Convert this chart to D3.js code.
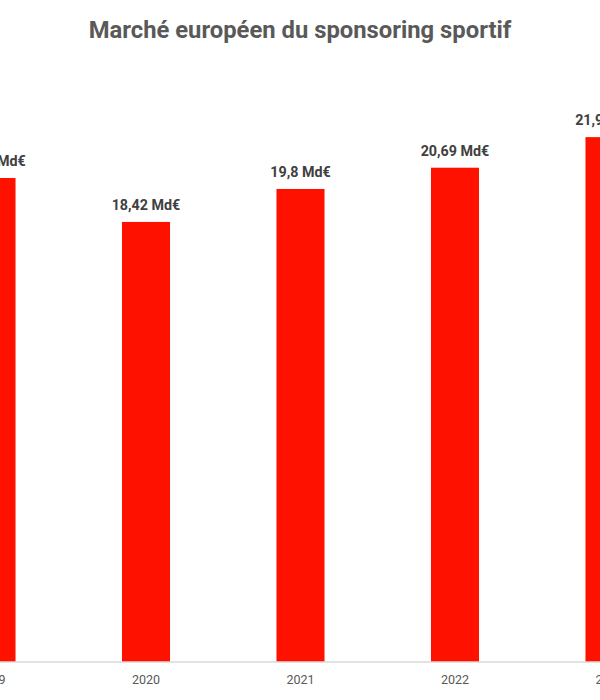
<!DOCTYPE html>
<html><head><meta charset="utf-8">
<script src="https://cdn.jsdelivr.net/npm/d3@7"></script>
<style>html,body{margin:0;padding:0;background:#fff;overflow:hidden}</style>
</head><body>
<svg id="c" width="600" height="700"></svg>
<script>
const title = "Marché européen du sponsoring sportif";
const years = ["2019","2020","2021","2022","2023"];
const values = [20.26, 18.42, 19.8, 20.69, 21.97];
const unit = "Md€";

const svg = d3.select("#c");
const baseY = 662;
const x = d3.scaleBand().domain(years).range([-85.75, 686.75]).paddingInner(0.689).paddingOuter(0.3445);
const y = d3.scaleLinear().domain([0, 20]).range([baseY, baseY - 477.8]);

svg.append("text").attr("x", 300).attr("y", 38).attr("text-anchor", "middle")
  .attr("font-family", "Roboto, sans-serif").attr("font-weight", 700).attr("font-size", 23.8)
  .attr("fill", "#595959").text(title);

svg.selectAll("rect.bar").data(values).join("rect").attr("class","bar")
  .attr("x", (d,i) => x(years[i])).attr("width", x.bandwidth())
  .attr("y", d => y(d)).attr("height", d => baseY - y(d)).attr("fill", "#ff1100");

svg.selectAll("text.val").data(values).join("text").attr("class","val")
  .attr("x", (d,i) => x(years[i]) + x.bandwidth()/2).attr("y", d => y(d) - 12)
  .attr("text-anchor","middle").attr("font-family","Roboto, sans-serif").attr("font-weight",700)
  .attr("font-size",14.3).attr("fill","#404040")
  .text(d => String(d).replace(".", ",") + " " + unit);

const ax = svg.append("g").attr("transform", `translate(0,${baseY})`)
  .call(d3.axisBottom(x).tickSize(0).tickPadding(13));
ax.select(".domain").attr("stroke", "#d9d9d9").attr("stroke-width", 1.5).attr("d", "M0,0H600");
ax.selectAll("text").attr("font-family","Roboto, sans-serif").attr("font-size",12.5).attr("fill","#595959");
</script>
</body></html>
